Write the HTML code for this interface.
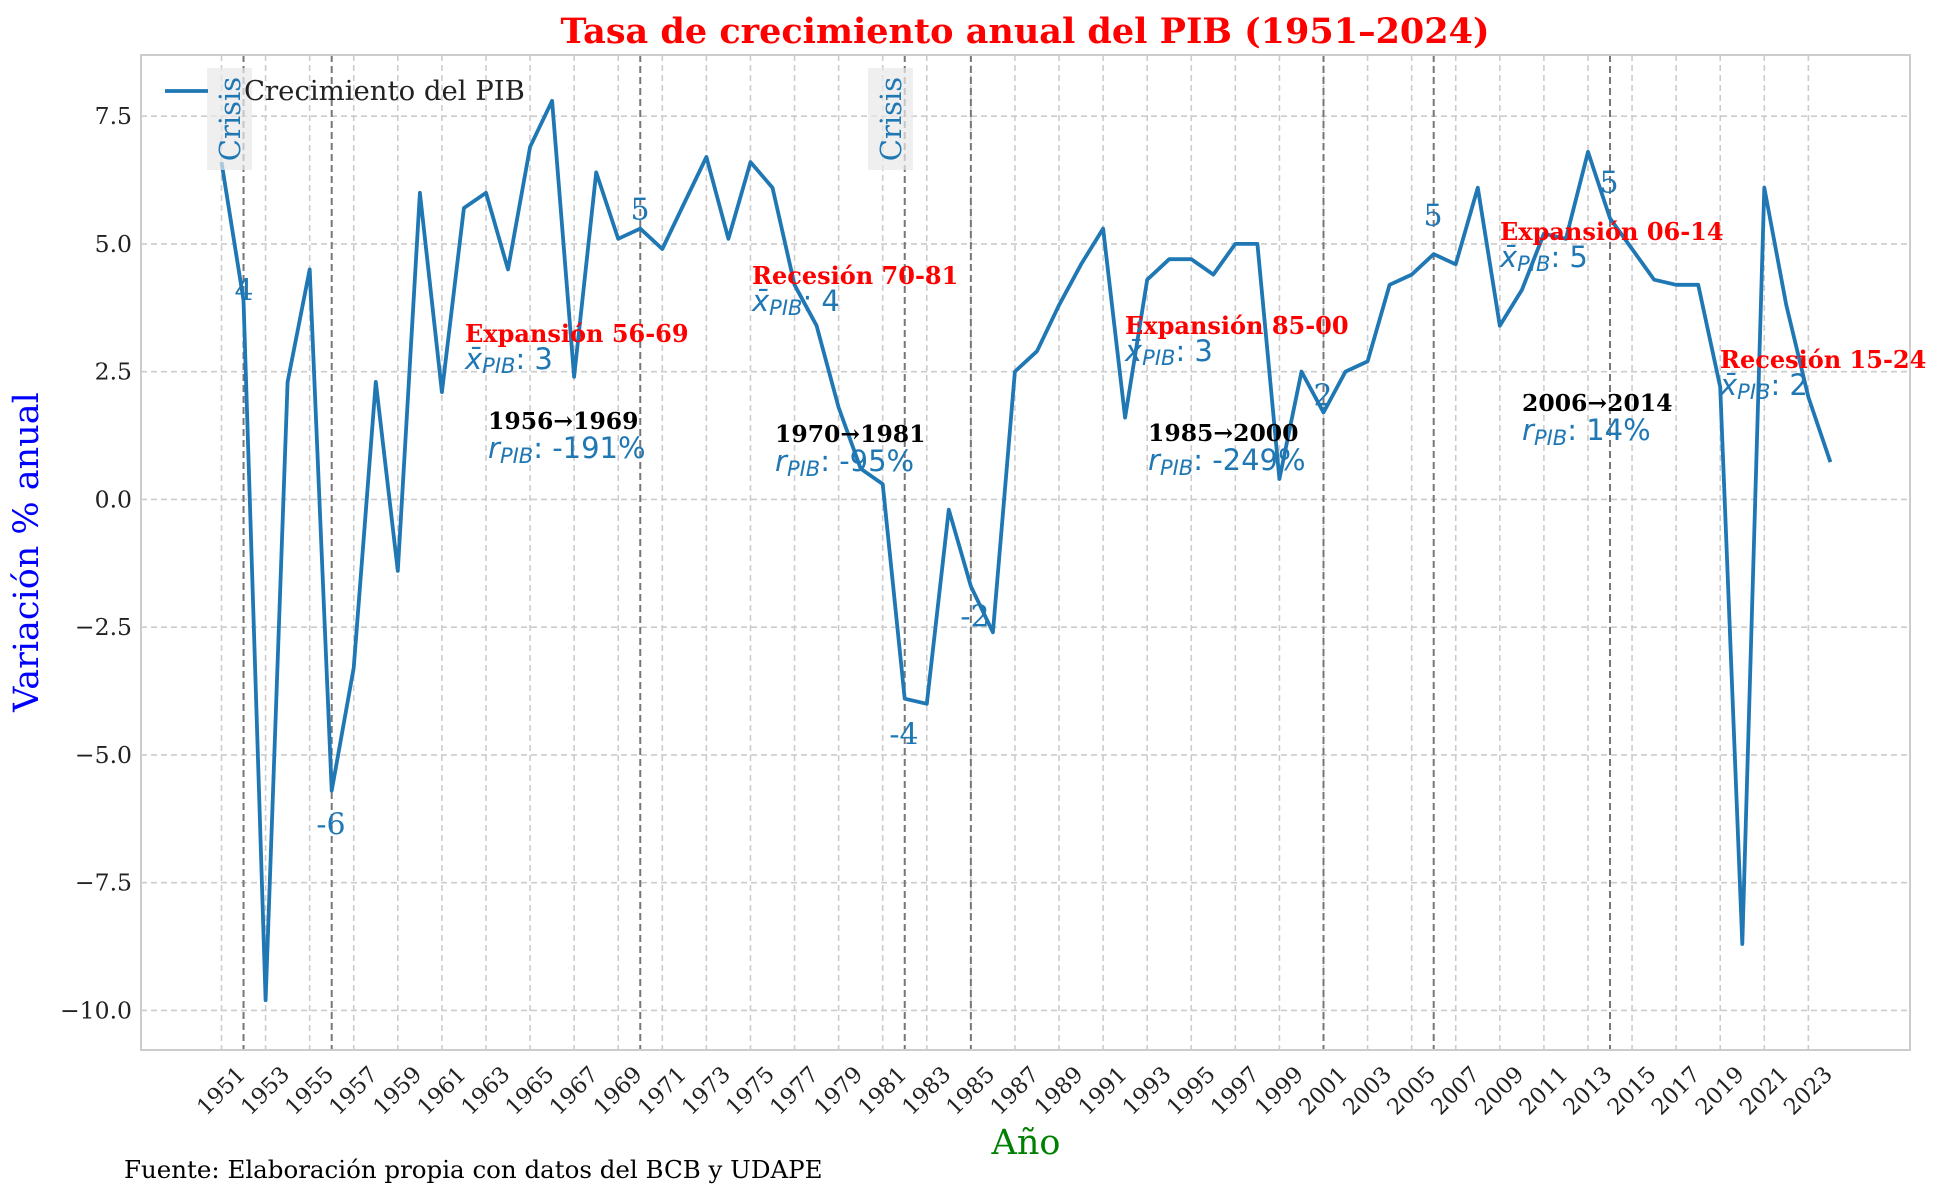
<!DOCTYPE html>
<html><head><meta charset="utf-8"><style>
html,body{margin:0;padding:0;background:#fff}
svg{display:block}
text{font-family:"DejaVu Serif","Liberation Serif",serif}
.sans{font-family:"DejaVu Sans","Liberation Sans",sans-serif}
</style></head><body>
<svg id="chart" width="1941" height="1197" viewBox="0 0 1941 1197" xmlns="http://www.w3.org/2000/svg">
<rect width="1941" height="1197" fill="#fff"/>
<text x="1025" y="43" text-anchor="middle" font-size="35" font-weight="bold" fill="#ff0000">Tasa de crecimiento anual del PIB (1951–2024)</text>
<g id="grid"></g>
<g id="vlines"></g>
<rect x="141" y="55" width="1769" height="995" fill="none" stroke="#cccccc" stroke-width="2"/>
<g id="yticks"></g>
<g id="xticks"></g>
<path id="series" fill="none" stroke="#1f77b4" stroke-width="3.8" stroke-linejoin="round"/>
<g>
<rect x="207" y="68" width="45" height="102" fill="#e8e8e8" opacity="0.7"/>
<text x="230" y="119" transform="rotate(-90 230 119)" text-anchor="middle" dominant-baseline="central" font-size="29" fill="#1f77b4">Crisis</text>
</g>
<g>
<rect x="868" y="68" width="45" height="102" fill="#e8e8e8" opacity="0.7"/>
<text x="891" y="119" transform="rotate(-90 891 119)" text-anchor="middle" dominant-baseline="central" font-size="29" fill="#1f77b4">Crisis</text>
</g>
<g>
<line x1="165" y1="91" x2="208" y2="91" stroke="#1f77b4" stroke-width="3.8"/>
<text x="244" y="100" font-size="27.5" fill="#222">Crecimiento del PIB</text>
</g>
<g font-size="30" fill="#1f77b4" text-anchor="middle" dominant-baseline="central">
<text x="244" y="291">4</text>
<text x="640" y="210">5</text>
<text x="331" y="825">-6</text>
<text x="904" y="735">-4</text>
<text x="975" y="617">-2</text>
<text x="1323" y="396">2</text>
<text x="1433" y="216">5</text>
<text x="1609" y="183">5</text>
</g>
<g>
<text x="465" y="342" font-size="24" font-weight="bold" fill="#ff0000">Expansión 56-69</text>
<text class="sans" x="465" y="369" font-size="29" fill="#1f77b4"><tspan font-style="italic">x̄</tspan><tspan font-style="italic" font-size="21" dy="4">PIB</tspan><tspan dy="-4">: 3</tspan></text>
<text x="752" y="284" font-size="24" font-weight="bold" fill="#ff0000">Recesión 70-81</text>
<text class="sans" x="752" y="311" font-size="29" fill="#1f77b4"><tspan font-style="italic">x̄</tspan><tspan font-style="italic" font-size="21" dy="4">PIB</tspan><tspan dy="-4">: 4</tspan></text>
<text x="1125" y="334" font-size="24" font-weight="bold" fill="#ff0000">Expansión 85-00</text>
<text class="sans" x="1125" y="361" font-size="29" fill="#1f77b4"><tspan font-style="italic">x̄</tspan><tspan font-style="italic" font-size="21" dy="4">PIB</tspan><tspan dy="-4">: 3</tspan></text>
<text x="1500" y="240" font-size="24" font-weight="bold" fill="#ff0000">Expansión 06-14</text>
<text class="sans" x="1500" y="267" font-size="29" fill="#1f77b4"><tspan font-style="italic">x̄</tspan><tspan font-style="italic" font-size="21" dy="4">PIB</tspan><tspan dy="-4">: 5</tspan></text>
<text x="1720" y="368" font-size="24" font-weight="bold" fill="#ff0000">Recesión 15-24</text>
<text class="sans" x="1720" y="395" font-size="29" fill="#1f77b4"><tspan font-style="italic">x̄</tspan><tspan font-style="italic" font-size="21" dy="4">PIB</tspan><tspan dy="-4">: 2</tspan></text>
</g>
<g>
<text x="488" y="429" font-size="23.5" font-weight="bold" fill="#000">1956→1969</text>
<text class="sans" x="488" y="458" font-size="29" fill="#1f77b4"><tspan font-style="italic">r</tspan><tspan font-style="italic" font-size="21" dy="5">PIB</tspan><tspan dy="-5">: -191%</tspan></text>
<text x="775" y="442" font-size="23.5" font-weight="bold" fill="#000">1970→1981</text>
<text class="sans" x="775" y="471" font-size="29" fill="#1f77b4"><tspan font-style="italic">r</tspan><tspan font-style="italic" font-size="21" dy="5">PIB</tspan><tspan dy="-5">: -95%</tspan></text>
<text x="1148" y="441" font-size="23.5" font-weight="bold" fill="#000">1985→2000</text>
<text class="sans" x="1148" y="470" font-size="29" fill="#1f77b4"><tspan font-style="italic">r</tspan><tspan font-style="italic" font-size="21" dy="5">PIB</tspan><tspan dy="-5">: -249%</tspan></text>
<text x="1522" y="411" font-size="23.5" font-weight="bold" fill="#000">2006→2014</text>
<text class="sans" x="1522" y="440" font-size="29" fill="#1f77b4"><tspan font-style="italic">r</tspan><tspan font-style="italic" font-size="21" dy="5">PIB</tspan><tspan dy="-5">: 14%</tspan></text>
</g>
<text x="27" y="552" transform="rotate(-90 27 552)" text-anchor="middle" dominant-baseline="central" font-size="35" fill="#0000ff">Variación % anual</text>
<text x="1026" y="1143" text-anchor="middle" dominant-baseline="central" font-size="35" fill="#008000">Año</text>
<text x="124" y="1178" font-size="24.5" fill="#000">Fuente: Elaboración propia con datos del BCB y UDAPE</text>
</svg>
<script>
const years = [];
for (let y = 1951; y <= 2024; y++) years.push(y);
const growth = [6.6,3.9,-9.8,2.3,4.5,-5.7,-3.3,2.3,-1.4,6.0,2.1,5.7,6.0,4.5,6.9,7.8,2.4,6.4,5.1,5.3,4.9,5.8,6.7,5.1,6.6,6.1,4.2,3.4,1.8,0.6,0.3,-3.9,-4.0,-0.2,-1.7,-2.6,2.5,2.9,3.8,4.6,5.3,1.6,4.3,4.7,4.7,4.4,5.0,5.0,0.4,2.5,1.7,2.5,2.7,4.2,4.4,4.8,4.6,6.1,3.4,4.1,5.2,5.1,6.8,5.5,4.9,4.3,4.2,4.2,2.2,-8.7,6.1,3.8,2.0,0.73];
const yTicks = [-10,-7.5,-5,-2.5,0,2.5,5,7.5];
const yTickLabels = ["−10.0","−7.5","−5.0","−2.5","0.0","2.5","5.0","7.5"];
const eventYears = [1952,1956,1970,1982,1985,2001,2006,2014];

const NS = "http://www.w3.org/2000/svg";
const L = 141, R = 1910, T = 55, B = 1050;
function xs(yr){ return 221.5 + (yr - 1951) * 22.04; }
function ys(v){ return 499.4 - v * 51.1; }
function mk(tag, attrs, parent){
  const e = document.createElementNS(NS, tag);
  for (const k in attrs) e.setAttribute(k, attrs[k]);
  parent.appendChild(e); return e;
}
const grid = document.getElementById('grid');
const xt = document.getElementById('xticks');
const yt = document.getElementById('yticks');
const vl = document.getElementById('vlines');

yTicks.forEach((v, i) => {
  const ln = mk('line', {x1:L, x2:R, y1:ys(v), y2:ys(v), stroke:'#cccccc', 'stroke-width':1.6, 'stroke-dasharray':'6,4'}, grid);
  
  
  const t = mk('text', {x:132, y:ys(v), 'text-anchor':'end', 'dominant-baseline':'central', 'font-size':23.5, fill:'#222'}, yt);
  t.textContent = yTickLabels[i];
  
  
});
years.forEach(yr => {
  if ((yr - 1951) % 2 !== 0) return;
  const x = xs(yr);
  const ln = mk('line', {x1:x, x2:x, y1:T, y2:B, stroke:'#cccccc', 'stroke-width':1.6, 'stroke-dasharray':'6,4'}, grid);
  
  
  const cy = 1091;
  const t = mk('text', {x:x, y:cy, 'text-anchor':'middle', 'dominant-baseline':'central', 'font-size':22.5, fill:'#222', transform:'rotate(-45 '+x+' '+cy+')'}, xt);
  t.textContent = yr;
  
  
});
eventYears.forEach(yr => {
  const x = xs(yr);
  const ln = mk('line', {x1:x, x2:x, y1:T, y2:B, stroke:'#777', 'stroke-width':2, 'stroke-dasharray':'7,4'}, vl);
  
  
});
let d = '';
growth.forEach((v, i) => { d += (i ? 'L' : 'M') + xs(years[i]).toFixed(1) + ' ' + ys(v).toFixed(1); });
document.getElementById('series').setAttribute('d', d);
</script>
</body></html>
